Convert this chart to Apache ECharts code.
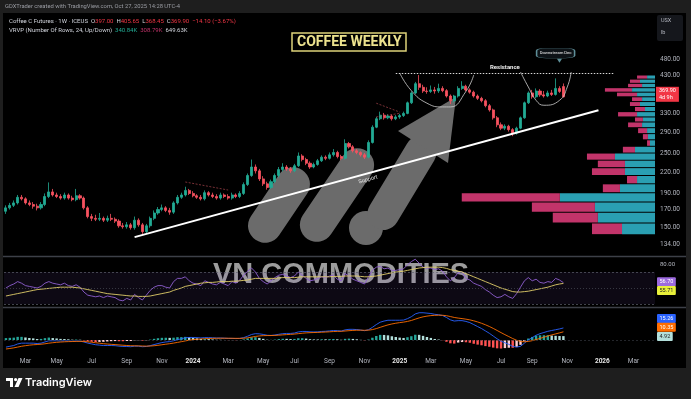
<!DOCTYPE html>
<html><head><meta charset="utf-8">
<script src="https://cdn.jsdelivr.net/npm/echarts@6.0.0/dist/echarts.min.js"></script>
<style>html,body{margin:0;padding:0;background:#1e1e1e}#c{width:691px;height:399px}</style>
</head><body><div id="c"></div>
<script>
// ---------- categories: weekly bars (Mondays), incl. empty future weeks ----------
const firstWeekUTC = Date.UTC(2023, 0, 30);
const weekCount = 167;
const weeks = [];
for (let i = 0; i < weekCount; i++) weeks.push(new Date(firstWeekUTC + i * 7 * 864e5).toISOString().slice(0, 10));
const MONTHS = ['Jan','Feb','Mar','Apr','May','Jun','Jul','Aug','Sep','Oct','Nov','Dec'];

// ---------- price (USX/lb), weekly OHLC ----------
const priceOpen = [168,172,175,178,185,183,178,176,174,172,
 176,186,192,188,186,184,188,184,182,187,
 184,172,162,160,159,160,158,160,159,157,
 152,151,153,150,158,153,146,152,160,166,
 170,172,169,167,178,185,188,194,190,187,
 185,183,191,188,186,184,188,186,184,188,
 186,190,202,215,228,222,210,203,198,206,
 215,224,228,225,222,230,246,240,234,228,
 232,238,244,242,248,252,245,242,268,262,
 255,252,248,244,270,300,318,326,320,324,
 318,322,325,330,355,380,405,395,385,384,
 388,385,392,386,372,360,372,392,398,388,
 382,372,366,360,348,338,320,305,298,302,
 295,288,298,320,355,380,370,385,375,372,
 380,376,392,397];
const priceClose = [172,175,178,185,183,178,176,174,172,176,
 186,192,188,186,184,188,184,182,187,184,
 172,162,160,159,160,158,160,159,157,152,
 151,153,150,158,153,146,152,160,166,170,
 172,169,167,178,185,188,194,190,187,185,
 183,191,188,186,184,188,186,184,188,186,
 190,202,215,228,222,210,203,198,206,215,
 224,228,225,222,230,246,240,234,228,232,
 238,244,242,248,252,245,242,268,262,255,
 252,248,244,270,300,318,326,320,324,318,
 322,325,330,355,380,405,395,385,384,388,
 385,392,386,372,360,372,392,398,388,382,
 372,366,360,348,338,320,305,298,302,295,
 288,298,320,355,380,370,385,375,372,380,
 376,392,384,369.9];
const priceHigh = [175,178,181,188,188,185,181,179,177,179,
 190,205,196,191,189,191,190,187,196,189,
 186,174,165,164,166,162,163,165,161,159,
 155,156,155,162,160,155,154,162,169,173,
 176,174,172,180,188,191,199,196,193,189,
 188,194,193,191,189,191,190,189,191,190,
 193,205,218,240,232,225,214,206,209,218,
 228,234,231,228,233,252,249,243,237,235,
 241,247,247,252,258,255,248,276,271,265,
 258,254,251,274,304,322,334,331,328,327,
 326,329,334,358,384,410,430,402,395,400,
 396,405,398,390,376,375,398,412,402,392,
 386,376,370,364,352,341,324,310,306,305,
 298,301,323,358,384,388,392,390,385,386,
 388,420,398,405.65];
const priceLow = [165,170,173,176,181,176,174,171,169,170,
 174,184,186,184,182,182,182,180,180,182,
 170,160,157,157,157,156,156,157,155,150,
 149,149,148,148,151,143,144,150,158,164,
 168,167,164,165,176,183,186,188,185,183,
 181,181,186,184,182,182,184,182,182,184,
 184,188,200,213,218,207,200,195,196,204,
 212,221,222,219,220,228,237,231,225,226,
 230,236,239,240,245,242,239,240,259,252,
 249,245,241,242,268,298,315,316,317,314,
 315,318,322,328,352,377,388,380,378,380,
 378,380,382,368,352,356,368,388,384,378,
 368,362,356,344,334,316,300,294,294,291,
 282,285,296,318,352,365,366,370,368,369,
 372,373,380,368.45];
const priceTicks = [134,150,170,190,220,250,290,330,430,480];
const lastPrice = 369.90;

// ---------- RSI (14) & its MA ----------
const rsiValues = [50,53,55,58,56,53,52,51,50,52,
 56,58,56,55,54,56,53,52,54,51,
 45,41,40,39,40,38,40,39,38,35,
 34,37,35,42,38,35,41,47,51,53,
 53,51,50,58,62,62,64,59,56,55,
 53,59,57,55,54,57,55,53,58,56,
 60,66,71,75,70,62,58,55,59,63,
 66,67,65,63,65,70,66,62,59,60,
 62,64,63,65,66,61,59,68,65,61,
 59,57,55,64,72,76,77,74,75,72,
 72,73,74,79,83,86,81,76,75,75,
 73,74,71,64,59,63,69,70,62,60,
 56,54,52,48,45,41,38,39,42,39,
 37,43,51,59,63,59,61,57,56,58,
 57,62,60,56.7];
const rsiMA = [40,41,42,43,44,45,46,47,48,48.5,
 49,49.5,50,50.5,51,51,51,51,50.5,50,
 49,48,47,46,45,44,43,42.5,42,41.5,
 41,40.5,40,40,39.5,39.5,39.5,40,41,42,
 43,44,45,47,48.5,50,52,53,54,55,
 56,56.5,57,57,57.5,58,58,58,58.5,58.5,
 59,59.5,60,61,62,62,62,62,62,62,
 62.5,63,63,63,63,63.5,64,64,64,64,
 64,64,64,64,64.5,64.5,64.5,65,65,65,
 65,64.5,64,64,64.5,65,66,67,68,69,
 70,70.5,71,72,73,74,75,75.5,76,76,
 76,76,75.5,74.5,73,72,71,70,68,66,
 64,62,60,58,56,54,52,50,48.5,47,
 45.5,45,45,45.5,46,47,48,49,50,51,
 52.5,54,55,55.71];

// ---------- MACD (12, 26) ----------
const macdLine = [-9,-8,-7,-5,-4,-4,-4,-4,-4.5,-4,
 -2.5,-1,-1,-1,-1.2,-1,-1.2,-1.5,-1.2,-1.4,
 -2.5,-4,-5,-6,-6.5,-7,-7,-7,-7.2,-7.8,
 -8.2,-8.2,-8.5,-7.8,-7.8,-8.5,-8.2,-7.2,-5.8,-4.5,
 -3.3,-2.5,-2,-1,0.5,1.5,2.8,3.2,3.2,3.0,
 2.6,3.0,3.0,2.8,2.5,2.5,2.3,2.0,2.0,1.8,
 2.0,3.0,4.8,7.0,8.0,7.8,7.0,6.0,5.8,6.3,
 7.2,8.0,8.3,8.3,8.8,10.2,10.8,10.8,10.3,10.2,
 10.3,10.8,11.0,11.5,12.0,11.8,11.3,12.8,13.5,13.5,
 13.2,12.6,11.8,13.0,16.0,19.5,22.5,24.0,25.0,25.0,
 25.0,25.0,25.2,27.0,29.5,33.0,34.5,34.5,34.0,33.5,
 32.5,32.0,31.0,28.5,25.5,24.0,24.5,24.5,23.5,22.0,
 19.5,17.0,14.5,11.5,8.5,5.0,1.5,-1.5,-3.5,-5.5,
 -8.0,-9.0,-8.0,-4.0,0,3.0,6.0,8.0,9.5,11.0,
 12.0,13.0,14.0,15.26];
const macdSignal = [-11.4,-10.72,-9.98,-8.98,-7.98,-7.19,-6.55,-6.04,-5.73,-5.38,
 -4.81,-4.05,-3.44,-2.95,-2.60,-2.28,-2.06,-1.95,-1.80,-1.72,
 -1.88,-2.30,-2.84,-3.47,-4.08,-4.66,-5.13,-5.50,-5.84,-6.23,
 -6.63,-6.94,-7.25,-7.36,-7.45,-7.66,-7.77,-7.66,-7.28,-6.73,
 -6.04,-5.33,-4.67,-3.93,-3.05,-2.14,-1.15,-0.28,0.42,0.93,
 1.27,1.61,1.89,2.07,2.16,2.23,2.24,2.19,2.15,2.08,
 2.06,2.25,2.76,3.61,4.49,5.15,5.52,5.62,5.66,5.79,
 6.07,6.46,6.83,7.12,7.46,8.01,8.57,9.01,9.27,9.46,
 9.62,9.86,10.09,10.37,10.70,10.92,10.99,11.35,11.78,12.13,
 12.34,12.39,12.27,12.42,13.14,14.41,16.03,17.62,19.10,20.28,
 21.22,21.98,22.62,23.50,24.70,26.36,27.99,29.29,30.23,30.88,
 31.20,31.36,31.29,30.73,29.69,28.55,27.74,27.09,26.37,25.50,
 24.30,22.84,21.17,19.24,17.09,14.67,12.04,9.33,6.76,4.31,
 1.85,-0.32,-1.86,-2.29,-1.83,-0.87,0.51,2.01,3.50,5.00,
 6.40,7.72,8.98,10.35];
const macdHist = [2.4,2.72,2.98,3.98,3.98,3.19,2.55,2.04,1.23,1.38,
 2.31,3.05,2.44,1.95,1.40,1.28,0.86,0.45,0.60,0.32,
 -0.62,-1.70,-2.16,-2.53,-2.42,-2.34,-1.87,-1.50,-1.36,-1.57,
 -1.57,-1.26,-1.25,-0.44,-0.35,-0.84,-0.43,0.46,1.48,2.23,
 2.74,2.83,2.67,2.93,3.55,3.64,3.95,3.48,2.78,2.07,
 1.33,1.39,1.11,0.73,0.34,0.27,0.06,-0.19,-0.15,-0.28,
 -0.06,0.75,2.04,3.39,3.51,2.65,1.48,0.38,0.14,0.51,
 1.13,1.54,1.47,1.18,1.34,2.19,2.23,1.79,1.03,0.74,
 0.68,0.94,0.91,1.13,1.30,0.88,0.31,1.45,1.72,1.37,
 0.86,0.21,-0.47,0.58,2.86,5.09,6.47,6.38,5.90,4.72,
 3.78,3.02,2.58,3.50,4.80,6.64,6.51,5.21,3.77,2.62,
 1.30,0.64,-0.29,-2.23,-4.19,-4.55,-3.24,-2.59,-2.87,-3.50,
 -4.80,-5.84,-6.67,-7.74,-8.59,-9.67,-10.54,-10.83,-10.26,-9.81,
 -9.85,-8.68,-6.14,-1.71,1.83,3.87,5.49,5.99,6.00,6.00,
 5.60,5.28,5.02,4.92];

// ---------- VRVP (24 rows, up / down volume, K) ----------
const vpEdges = [143,155,167,179,191,203,215,227,239,251,263,275,287,299,311,322,334,346,358,370,382,394,406,418,430];
const vpUp   = [19.1,33.1,34.8,55.1,20.3,10.4,17.4,17.4,23.2,11.6,2.9,4.1,4.6,7.5,7.0,10.4,5.8,8.7,7.5,10.4,13.3,7.5,8.7,4.6];
const vpDown = [17.4,26.1,36.5,56.8,9.9,5.8,19.1,15.7,16.2,7.0,1.7,2.9,5.2,8.1,4.6,11.0,5.8,5.8,5.8,11.6,15.7,8.1,5.8,5.8];

// ---------- annotations (week index, price) ----------
const supportLine = [[33, 140.6], [152, 337]];
const resistanceLine = [[100, 436], [156, 436]];
const cup1 = [[101,436],[104,386],[108,354],[112,345],[114,345],[118,384],[120,430]];
const cup2 = [[132,439],[134,396],[136,361],[138,349],[142,361],[144,396],[145,439]];
const pennantA = [[46,205.6],[57,194.5]];
const pennantB1 = [[95,354],[101,333]];
const pennantB2 = [[95,322],[101,330]];

// ---------- build ----------
const L = Math.log;
const UP = '#22ab94', DOWN = '#f7525f';
const candleData = priceOpen.map((o, i) => [L(o), L(priceClose[i]), L(priceLow[i]), L(priceHigh[i])]);
const toLn = arr => arr.map(p => [p[0], L(p[1])]);
const vpData = vpUp.map((u, k) => [L(vpEdges[k]), L(vpEdges[k + 1]), u, vpDown[k]]);

const FONT = 'Roboto, "Liberation Sans", sans-serif';
const catAxis = (gi, showLabel) => ({
  type: 'category', gridIndex: gi, data: weeks, boundaryGap: true,
  axisLine: {show: false}, axisTick: {show: false}, splitLine: {show: false},
  axisLabel: showLabel ? {
    margin: 6, fontSize: 6.5,
    interval: (idx, v) => { const d = new Date(v + 'T00:00:00Z'); return d.getUTCDate() <= 7 && d.getUTCMonth() % 2 === 0; },
    formatter: v => { const d = new Date(v + 'T00:00:00Z'); const m = d.getUTCMonth();
      return m === 0 ? '{y|' + d.getUTCFullYear() + '}' : '{m|' + MONTHS[m] + '}'; },
    rich: {y: {color: '#e6e6e6', fontWeight: 'bold', fontSize: 6.5, fontFamily: FONT}, m: {color: '#b2b5be', fontSize: 6.5, fontFamily: FONT}}
  } : {show: false}
});
const endLabel = (txt, bg, fg, dy) => ({show: true, position: 'end', distance: 2, formatter: txt, backgroundColor: bg, color: fg,
  fontSize: 5.5, padding: [1.5, 2.5], borderRadius: 1, offset: [0, dy || 0], fontFamily: FONT, opacity: 1});
const hiddenLine = {color: 'rgba(0,0,0,0)', width: 0.01};

const option = {
  animation: false,
  backgroundColor: '#1e1e1e',
  textStyle: {fontFamily: FONT},
  title: {text: 'COFFEE WEEKLY', left: 292, top: 33, padding: [2, 5], borderColor: '#ddd27a', borderWidth: 1.5,
    textStyle: {color: '#ece28e', fontSize: 14, fontWeight: 'bold', fontFamily: 'Roboto'}},
  grid: [
    {left: 4, top: 13, width: 651, height: 243},
    {left: 4, top: 257, width: 651, height: 49},
    {left: 4, top: 308, width: 651, height: 44}
  ],
  xAxis: [catAxis(0, false), catAxis(1, false), catAxis(2, true),
    {type: 'value', gridIndex: 0, inverse: true, min: 0, max: 377, show: false}],
  yAxis: [
    {type: 'value', gridIndex: 0, position: 'right', min: 4.81551, max: 6.49138, splitLine: {show: false},
      axisLine: {show: false}, axisTick: {show: false},
      axisLabel: {customValues: priceTicks.map(L), formatter: v => Math.exp(v).toFixed(2), color: '#b2b5be', fontSize: 6.5, margin: 5}},
    {type: 'value', gridIndex: 1, position: 'right', min: 27.5, max: 88.75, splitLine: {show: false},
      axisLine: {show: false}, axisTick: {show: false},
      axisLabel: {customValues: [80], formatter: v => v.toFixed(2), color: '#b2b5be', fontSize: 6, margin: 5}},
    {type: 'value', gridIndex: 2, position: 'right', min: -15.2, max: 40.5, splitLine: {show: false},
      axisLine: {show: false}, axisTick: {show: false}, axisLabel: {show: false}}
  ],
  graphic: [
    {type: 'rect', z: 0, shape: {x: 3, y: 13, width: 683, height: 355}, style: {fill: '#000'}},
    {type: 'line', z: 0, shape: {x1: 3, y1: 256.5, x2: 686, y2: 256.5}, style: {stroke: '#3d4048', lineWidth: 1.5}},
    {type: 'line', z: 0, shape: {x1: 3, y1: 307.5, x2: 686, y2: 307.5}, style: {stroke: '#3d4048', lineWidth: 1.5}},
    // logo (watermark)
    {type: 'rect', z: 1, x: 279, y: 205, rotation: 56 * Math.PI / 180, shape: {x: -42, y: -17, width: 84, height: 34, r: 17}, style: {fill: '#6b6b6b'}},
    {type: 'rect', z: 1, x: 337, y: 195, rotation: 56 * Math.PI / 180, shape: {x: -53, y: -17, width: 106, height: 34, r: 17}, style: {fill: '#6b6b6b'}},
    {type: 'circle', z: 1, shape: {cx: 366, cy: 228, r: 17}, style: {fill: '#6b6b6b'}},
    {type: 'rect', z: 1, x: 402, y: 183, rotation: 59 * Math.PI / 180, shape: {x: -52, y: -16, width: 104, height: 32, r: 16}, style: {fill: '#6b6b6b'}},
    {type: 'polygon', z: 1, shape: {points: [[398, 131], [456, 97], [448, 163]]}, style: {fill: '#6b6b6b'}},
    {type: 'text', z: 1, x: 213, y: 275, style: {text: 'VN COMMODITIES', fill: 'rgba(190,190,190,0.82)', fontSize: 29, fontWeight: 'bold', fontFamily: '"Liberation Sans", Arial, sans-serif', verticalAlign: 'middle'}},
    // header texts
    {type: 'text', z: 5, x: 5, y: 7, style: {text: 'GDXTrader created with TradingView.com, Oct 27, 2025 14:28 UTC-4', fill: '#9a9ca3', fontSize: 5.8, fontFamily: FONT, verticalAlign: 'middle'}},
    {type: 'text', z: 5, x: 9, y: 21, style: {verticalAlign: 'middle', fontFamily: FONT, fontSize: 6,
      text: '{w|Coffee C Futures · 1W · ICEUS  O}{r|397.00}{w|  H}{r|405.65}{w|  L}{r|368.45}{w|  C}{r|369.90}{r|  −14.10 (−3.67%)}',
      rich: {w: {fill: '#d1d4dc', fontSize: 6, fontFamily: FONT}, r: {fill: '#f23645', fontSize: 6, fontFamily: FONT}}}},
    {type: 'text', z: 5, x: 9, y: 30, style: {verticalAlign: 'middle', fontFamily: FONT, fontSize: 6,
      text: '{w|VRVP (Number Of Rows, 24, Up/Down)  }{t|340.84K}{w|  }{p|308.79K}{w|  649.63K}',
      rich: {w: {fill: '#d1d4dc', fontSize: 6, fontFamily: FONT}, t: {fill: '#22ab94', fontSize: 6, fontFamily: FONT}, p: {fill: '#c2346a', fontSize: 6, fontFamily: FONT}}}},
    // currency box
    {type: 'rect', z: 5, shape: {x: 657, y: 15, width: 26, height: 26, r: 2}, style: {fill: '#15171c'}},
    {type: 'text', z: 6, x: 661, y: 21, style: {text: 'USX', fill: '#b2b5be', fontSize: 5.5, fontFamily: FONT, verticalAlign: 'middle'}},
    {type: 'text', z: 6, x: 661, y: 33, style: {text: 'lb', fill: '#b2b5be', fontSize: 5.5, fontFamily: FONT, verticalAlign: 'middle'}},
    // TradingView footer logo
    {type: 'rect', z: 5, shape: {x: 6, y: 378, width: 7, height: 3}, style: {fill: '#fff'}},
    {type: 'rect', z: 5, shape: {x: 10, y: 378, width: 3, height: 9}, style: {fill: '#fff'}},
    {type: 'circle', z: 5, shape: {cx: 15.6, cy: 379.6, r: 1.6}, style: {fill: '#fff'}},
    {type: 'polygon', z: 5, shape: {points: [[18.5, 378], [22.5, 378], [18.5, 387], [14.5, 387]]}, style: {fill: '#fff'}},
    {type: 'text', z: 5, x: 25, y: 383, style: {text: 'TradingView', fill: '#fff', fontSize: 11, fontWeight: 600, fontFamily: 'Inter, Roboto, sans-serif', verticalAlign: 'middle'}}
  ],
  series: [
    {
      type: 'candlestick', xAxisIndex: 0, yAxisIndex: 0, data: candleData, barWidth: '66%', z: 3,
      itemStyle: {color: UP, color0: DOWN, borderColor: UP, borderColor0: DOWN, borderWidth: 0.8},
      markLine: {
        symbol: ['none', 'none'], silent: true, animation: false,
        data: [
          [{coord: [supportLine[0][0], L(supportLine[0][1])], lineStyle: {color: '#fff', width: 2, type: 'solid'},
            label: {show: true, formatter: 'Support', position: 'insideMiddleBottom', color: '#e6e6e6', fontSize: 5.5, distance: 3}},
           {coord: [supportLine[1][0], L(supportLine[1][1])]}],
          [{coord: [resistanceLine[0][0], L(resistanceLine[0][1])], lineStyle: {color: '#d8d8d8', width: 1, type: [1.5, 1.5]},
            label: {show: true, formatter: 'Resistance', position: 'insideMiddleTop', color: '#ececec', fontSize: 6, fontWeight: 'bold', distance: 2}},
           {coord: [resistanceLine[1][0], L(resistanceLine[1][1])]}],
          {yAxis: L(lastPrice), lineStyle: hiddenLine,
            label: {show: true, position: 'end', distance: 1, formatter: '369.90\n4d 9h', backgroundColor: '#f23645', color: '#fff',
              fontSize: 5.5, lineHeight: 6.5, padding: [1, 3], offset: [0, -3], fontFamily: FONT, opacity: 1}}
        ]
      },
      markPoint: {
        silent: true, animation: false,
        data: [
          {coord: [141, L(500)], symbol: 'roundRect', symbolSize: [38, 10], itemStyle: {color: '#0d1216', borderColor: '#5f8f99', borderWidth: 0.8},
            label: {show: true, formatter: 'Downstream Dec', color: '#f0f0f0', fontSize: 4.2}},
          {coord: [142, L(474)], symbol: 'triangle', symbolRotate: 180, symbolSize: [5, 4], itemStyle: {color: '#5f8f99'}, label: {show: false}}
        ]
      }
    },
    {type: 'custom', xAxisIndex: 3, yAxisIndex: 0, data: vpData, encode: {x: [2, 3], y: [0, 1]}, z: 2,
      renderItem: (params, api) => {
        const lo = api.value(0), hi = api.value(1), up = api.value(2), dn = api.value(3);
        const pR = api.coord([0, hi]), pU = api.coord([up, lo]), pD = api.coord([up + dn, lo]);
        const top = pR[1] + 0.5, h = pU[1] - pR[1] - 1;
        return {type: 'group', children: [
          {type: 'rect', shape: {x: pU[0], y: top, width: pR[0] - pU[0], height: h}, style: {fill: '#2a9fb2'}},
          {type: 'rect', shape: {x: pD[0], y: top, width: pU[0] - pD[0], height: h}, style: {fill: '#c2346a'}}
        ]};
      }},
    {type: 'line', xAxisIndex: 0, yAxisIndex: 0, data: toLn(cup1), smooth: 0.5, symbol: 'none', z: 4, lineStyle: {color: '#cfcfcf', width: 0.8}},
    {type: 'line', xAxisIndex: 0, yAxisIndex: 0, data: toLn(cup2), smooth: 0.5, symbol: 'none', z: 4, lineStyle: {color: '#cfcfcf', width: 0.8}},
    {type: 'line', xAxisIndex: 0, yAxisIndex: 0, data: toLn(pennantA), symbol: 'none', z: 4, lineStyle: {color: '#c9505a', width: 0.6, type: [2, 1.5]}},
    {type: 'line', xAxisIndex: 0, yAxisIndex: 0, data: toLn(pennantB1), symbol: 'none', z: 4, lineStyle: {color: '#c9505a', width: 0.6, type: [2, 1.5]}},
    {type: 'line', xAxisIndex: 0, yAxisIndex: 0, data: toLn(pennantB2), symbol: 'none', z: 4, lineStyle: {color: '#c9505a', width: 0.6, type: [2, 1.5]}},
    // RSI
    {type: 'line', xAxisIndex: 1, yAxisIndex: 1, data: rsiValues, symbol: 'none', z: 3, lineStyle: {color: '#8e5fd0', width: 0.9},
      markArea: {silent: true, itemStyle: {color: 'rgba(126,87,194,0.10)'}, data: [[{yAxis: 30}, {yAxis: 70}]]},
      markLine: {symbol: ['none', 'none'], silent: true, animation: false, data: [
        {yAxis: 70, lineStyle: {color: '#5d606b', width: 0.7, type: [2, 2]}, label: {show: false}},
        {yAxis: 50, lineStyle: {color: '#4a4d56', width: 0.7, type: [1, 2]}, label: {show: false}},
        {yAxis: 30, lineStyle: {color: '#5d606b', width: 0.7, type: [2, 2]}, label: {show: false}},
        {yAxis: 56.70, lineStyle: hiddenLine, label: endLabel('56.70', '#9c6ade', '#fff', -1)}
      ]}},
    {type: 'line', xAxisIndex: 1, yAxisIndex: 1, data: rsiMA, symbol: 'none', z: 3, lineStyle: {color: '#e2cf6a', width: 0.9},
      markLine: {symbol: ['none', 'none'], silent: true, animation: false, data: [
        {yAxis: 55.71, lineStyle: hiddenLine, label: endLabel('55.71', '#e8f03a', '#222', 7)}
      ]}},
    // MACD
    {type: 'bar', xAxisIndex: 2, yAxisIndex: 2, data: macdHist, barWidth: '62%', z: 2,
      itemStyle: {color: p => { const v = macdHist[p.dataIndex], prev = p.dataIndex > 0 ? macdHist[p.dataIndex - 1] : v;
        return v >= 0 ? (v >= prev ? '#26a69a' : '#b2dfdb') : (v <= prev ? '#ff5252' : '#ffcdd2'); }},
      markLine: {symbol: ['none', 'none'], silent: true, animation: false, data: [
        {yAxis: 0, lineStyle: {color: '#3b3e46', width: 0.6, type: [2, 2]}, label: {show: false}},
        {yAxis: 4.92, lineStyle: hiddenLine, label: endLabel('4.92', '#b2dfdb', '#222', 0.5)}
      ]}},
    {type: 'line', xAxisIndex: 2, yAxisIndex: 2, data: macdLine, symbol: 'none', z: 3, lineStyle: {color: '#2962ff', width: 0.9},
      markLine: {symbol: ['none', 'none'], silent: true, animation: false, data: [
        {yAxis: 15.26, lineStyle: hiddenLine, label: endLabel('15.26', '#2962ff', '#fff', -9.5)}
      ]}},
    {type: 'line', xAxisIndex: 2, yAxisIndex: 2, data: macdSignal, symbol: 'none', z: 3, lineStyle: {color: '#ff6d00', width: 0.9},
      markLine: {symbol: ['none', 'none'], silent: true, animation: false, data: [
        {yAxis: 10.35, lineStyle: hiddenLine, label: endLabel('10.35', '#ff6d00', '#fff', -4.5)}
      ]}}
  ]
};
echarts.init(document.getElementById('c')).setOption(option);
</script></body></html>
